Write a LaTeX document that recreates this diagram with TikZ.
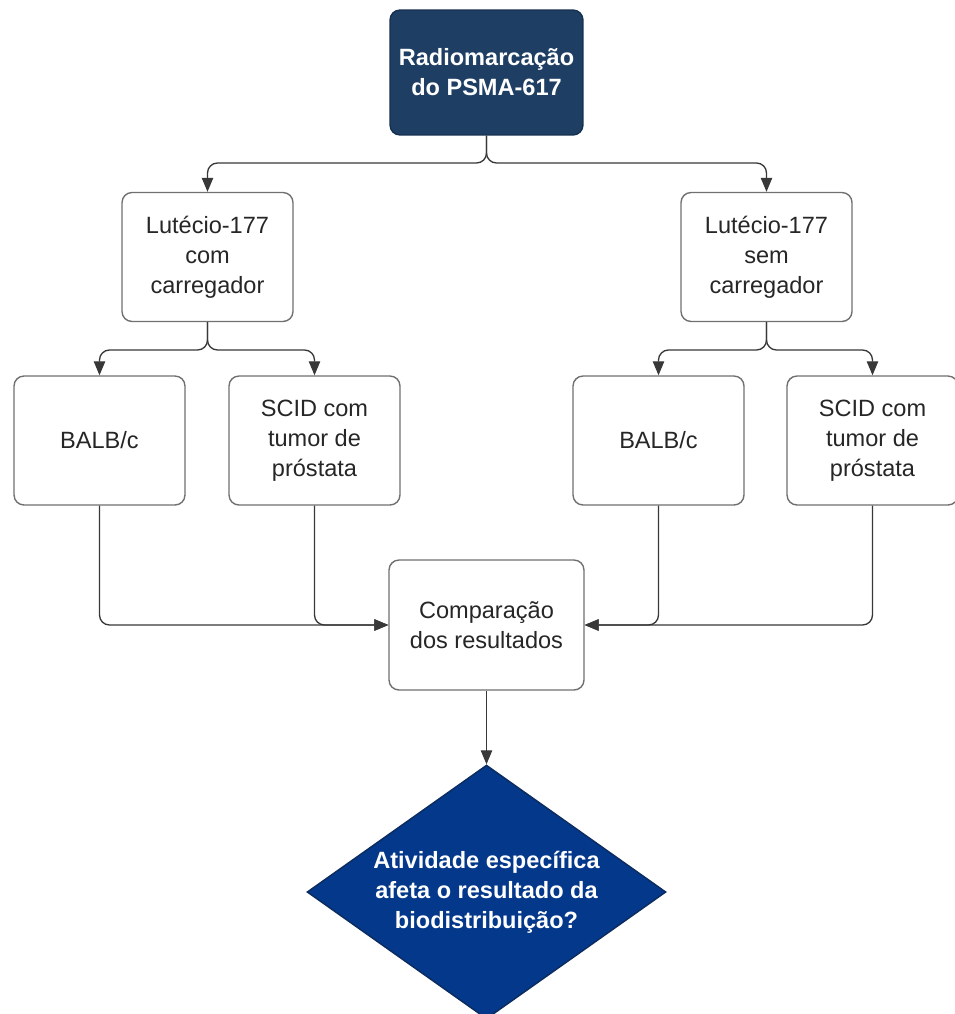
\documentclass[tikz,border=0pt]{standalone}
\usepackage{fontspec}
\setmainfont{Liberation Sans}
\usetikzlibrary{shapes.geometric,arrows.meta}
\definecolor{topFill}{HTML}{1F3E64}
\definecolor{topRule}{HTML}{16304F}
\definecolor{questFill}{HTML}{04388A}
\definecolor{questRule}{HTML}{0C2B5E}
\definecolor{boxRule}{HTML}{707070}
\definecolor{linkRule}{HTML}{383838}
\tikzset{
  stepbox/.style={draw=boxRule, line width=0.8pt, fill=white,
    rounded corners=0.2cm, minimum width=3.42cm, minimum height=2.58cm,
    align=center, font=\fontsize{13.4}{17}\selectfont, text=black!85},
  headbox/.style={stepbox, fill=topFill, draw=topRule, minimum width=3.86cm,
    minimum height=2.5cm, text=white, font=\fontsize{13.4}{17}\selectfont\bfseries},
  quest/.style={diamond, aspect=1.41, inner sep=0pt, fill=questFill,
    draw=questRule, line width=0.8pt, minimum width=7.18cm, minimum height=5.08cm,
    align=center, text=white, font=\fontsize{13.4}{17}\selectfont\bfseries},
  link/.style={draw=linkRule, line width=0.75pt, rounded corners=0.2cm,
    -{Triangle[width=6.5pt,length=8pt]}}
}

\begin{document}
\begin{tikzpicture}[x=0.02cm, y=-0.02cm]
\useasboundingbox (0,0) rectangle (955,1014);

% labelling step
\node[headbox] (top) at (486.5,72.5) {Radiomarcação\\do PSMA-617};
\coordinate (topsplit) at (486.5,163);

% two lutetium sources
\node[stepbox] (com) at (207.5,257) {Lutécio-177\\com\\carregador};
\node[stepbox] (sem) at (766.5,257) {Lutécio-177\\sem\\carregador};
\coordinate (comsplit) at (207.5,350);
\coordinate (semsplit) at (766.5,350);

% animal models
\node[stepbox] (balbA) at (99.5,440.5) {BALB/c};
\node[stepbox] (scidA) at (314.5,440.5) {SCID com\\tumor de\\próstata};
\node[stepbox] (balbB) at (658.5,440.5) {BALB/c};
\node[stepbox] (scidB) at (872.5,440.5) {SCID com\\tumor de\\próstata};

% comparison and question
\node[stepbox, minimum width=3.9cm, minimum height=2.6cm] (comp) at (486.5,625)
  {Comparação\\dos resultados};
\node[quest] (quest) at (486.5,892)
  {Atividade específica\\afeta o resultado da\\biodistribuição?};

\draw[link] (top.south) |- (com.north |- topsplit) -- (com.north);
\draw[link] (top.south) |- (sem.north |- topsplit) -- (sem.north);
\draw[link] (com.south) |- (balbA.north |- comsplit) -- (balbA.north);
\draw[link] (com.south) |- (scidA.north |- comsplit) -- (scidA.north);
\draw[link] (sem.south) |- (balbB.north |- semsplit) -- (balbB.north);
\draw[link] (sem.south) |- (scidB.north |- semsplit) -- (scidB.north);

\draw[link] (balbA.south) |- (comp.west);
\draw[link] (scidA.south) |- (comp.west);
\draw[link] (balbB.south) |- (comp.east);
\draw[link] (scidB.south) |- (comp.east);
\draw[link] (comp.south) -- (quest.north);

\end{tikzpicture}
\end{document}
